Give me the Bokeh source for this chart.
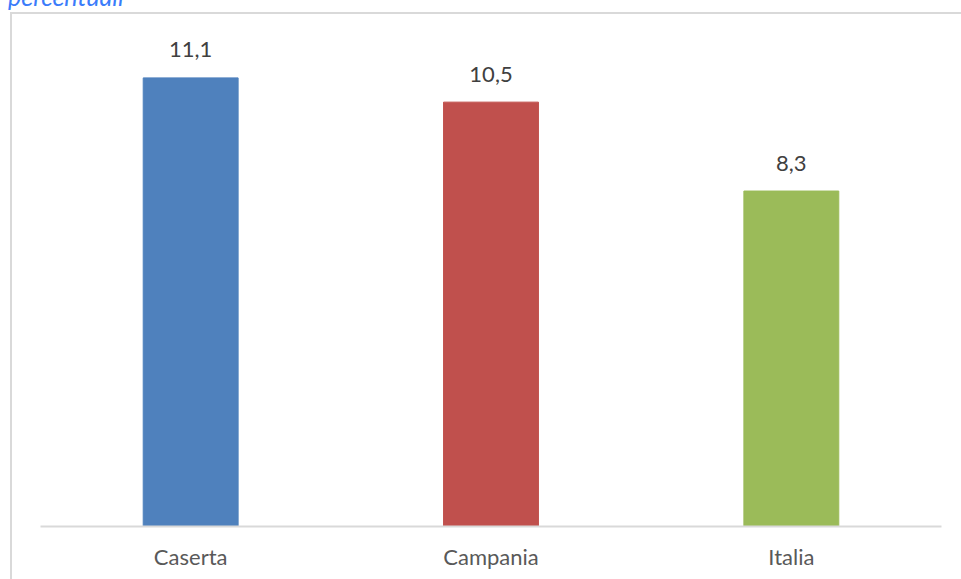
from bokeh.plotting import figure
from bokeh.models import ColumnDataSource, FactorRange, Range1d, Div
from bokeh.layouts import column
from bokeh.embed import file_html
from bokeh.resources import INLINE
from bokeh.core.properties import value

categories = ["Caserta", "Campania", "Italia"]
values = [11.1, 10.5, 8.3]
value_labels = ["11,1", "10,5", "8,3"]
colors = ["#4F81BD", "#C0504D", "#9BBB59"]
title_text = "percentuali"

FONT = "Lato"

src = ColumnDataSource(dict(cat=categories, val=values, lab=value_labels, col=colors))

# figure placed at page offset (10, 12) with a 2px border on its left/top
p = figure(
    width=949, height=565,
    x_range=FactorRange(factors=categories, range_padding=0),
    y_range=Range1d(0, 12),
    output_backend="svg", toolbar_location=None,
    min_border_left=28, min_border_right=22, min_border_top=27, min_border_bottom=55,
)
p.outline_line_color = None
p.background_fill_color = "white"
p.border_fill_color = "white"
p.grid.visible = False
p.yaxis.visible = False
p.margin = (0, 0, 0, 10)
p.styles = {"border-left": "2px solid #D9D9D9", "border-top": "2px solid #D9D9D9",
            "box-sizing": "content-box"}

p.vbar(x="cat", top="val", width=0.316, color="col", source=src)
p.text(x="cat", y="val", text="lab", source=src, text_align="center",
       text_baseline="middle", y_offset=-28, text_font=value(FONT),
       text_font_size="22px", text_color="#404040")

ax = p.xaxis[0]
ax.axis_line_color = "#D9D9D9"
ax.axis_line_width = 2
ax.major_tick_line_color = None
ax.minor_tick_line_color = None
ax.major_tick_out = 0
ax.major_tick_in = 0
ax.major_label_standoff = 16
ax.major_label_text_font = FONT
ax.major_label_text_font_size = "22px"
ax.major_label_text_color = "#595959"

title = Div(
    text=(f'<div style="position:relative; top:-16px; left:8px; white-space:nowrap; '
          f'font-family:{FONT}; font-style:italic; font-size:25px; line-height:25px; '
          f'color:#3B7CFA;">{title_text}</div>'),
    width=961, height=12, margin=(0, 0, 0, 0),
    styles={"overflow": "hidden"},
)

layout = column(title, p, spacing=0, margin=(0, 0, 0, 0))

open("out.html", "w").write(file_html(layout, INLINE))
